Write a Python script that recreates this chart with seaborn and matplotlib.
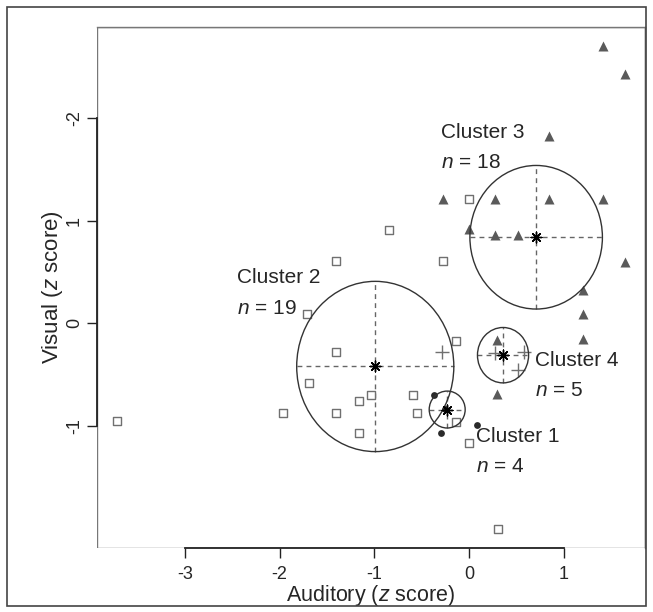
import numpy as np
import pandas as pd
import seaborn as sns
import matplotlib.pyplot as plt
from matplotlib.patches import Ellipse, Rectangle

# %% data (z scores)

# cluster 1 - filled dots
c1_x = [-0.37, -0.30, 0.09, -0.25]
c1_y = [-0.70, -1.07, -0.99, -0.83]

# cluster 2 - open squares
c2_x = [-1.71, -1.40, -0.14, -1.69, -1.97, -1.40, -1.16, -1.03, -0.59, -0.55,
        -1.16, -0.14, 0.00, -3.72, -0.85, -1.40, -0.27, 0.00, 0.31]
c2_y = [0.09, -0.28, -0.17, -0.58, -0.87, -0.87, -0.76, -0.70, -0.70, -0.87,
        -1.07, -0.96, -1.17, -0.95, 0.91, 0.61, 0.61, 1.21, -2.00]

# cluster 3 - filled triangles
c3_x = [1.42, 1.65, 0.85, -0.27, 0.28, 0.85, 1.42, 0.00, 0.28, 0.52,
        1.65, 1.20, 1.20, 1.20, 0.30, 0.30]
c3_y = [2.70, 2.43, 1.83, 1.21, 1.21, 1.21, 1.21, 0.92, 0.86, 0.86,
        0.60, 0.33, 0.09, -0.15, -0.16, -0.69]

# cluster 4 - plus signs
c4_x = [-0.28, 0.28, 0.58, 0.52]
c4_y = [-0.28, -0.29, -0.28, -0.45]

# cluster centres and circle radii
clusters = ["Cluster 1", "Cluster 2", "Cluster 3", "Cluster 4"]
cluster_n = [4, 19, 18, 5]
centre_x = [-0.23, -0.99, 0.71, 0.36]
centre_y = [-0.84, -0.42, 0.84, -0.31]
radius_x = [0.19, 0.83, 0.70, 0.27]
radius_y = [0.18, 0.83, 0.70, 0.27]

# label anchor (left edge of text), two lines each
label_x = [0.07, -2.45, -0.30, 0.70]
label_y1 = [-1.10, 0.45, 1.86, -0.36]
label_y2 = [-1.40, 0.15, 1.57, -0.65]

# axis ticks and their printed labels (as in the figure)
x_ticks = [-3, -2, -1, 0, 1]
y_ticks = [2, 1, 0, -1]
y_tick_labels = ["-2", "1", "0", "-1"]


# %% style

sns.set_style("white")
plt.rcParams["font.family"] = ["Liberation Sans", "DejaVu Sans"]
plt.rcParams["mathtext.fontset"] = "custom"
plt.rcParams["mathtext.rm"] = "Liberation Sans"
plt.rcParams["mathtext.it"] = "Liberation Sans:italic"

fig = plt.figure(figsize=(6.53, 6.12), dpi=100)
W, H = 653, 612
# axes box in pixels: left 97, right 645, top 27, bottom 548
ax = fig.add_axes([97 / W, 1 - 548 / H, (645 - 97) / W, (548 - 27) / H])

# outer border of the figure
fig.patches.append(Rectangle((7 / W, 1 - 606 / H), (646 - 7) / W,
                             (606 - 7) / H,
                             transform=fig.transFigure, fill=False,
                             edgecolor="#444444", linewidth=1.2))


# %% points

df1 = pd.DataFrame({"x": c1_x, "y": c1_y})
df2 = pd.DataFrame({"x": c2_x, "y": c2_y})
df3 = pd.DataFrame({"x": c3_x, "y": c3_y})
df4 = pd.DataFrame({"x": c4_x, "y": c4_y})

sns.scatterplot(data=df2, x="x", y="y", marker="s", s=40,
                facecolor="white", edgecolor="#707070", linewidth=1.0,
                ax=ax, zorder=3)
sns.scatterplot(data=df3, x="x", y="y", marker="^", s=52,
                color="#5a5a5a", linewidth=0, ax=ax, zorder=3)
sns.scatterplot(data=df1, x="x", y="y", marker="o", s=24,
                color="#2a2a2a", linewidth=0, ax=ax, zorder=3)
sns.scatterplot(data=df4, x="x", y="y", marker="+", s=90,
                color="#707070", linewidth=1.0, ax=ax, zorder=3)

# circles, dashed cross-hairs and centre asterisks
for cx, cy, rx, ry in zip(centre_x, centre_y, radius_x, radius_y):
    ax.add_patch(Ellipse((cx, cy), 2 * rx, 2 * ry, fill=False,
                         edgecolor="#333333", linewidth=1.0, zorder=4))
    ax.plot([cx - rx, cx + rx], [cy, cy], color="#666666",
            linewidth=1.0, dashes=(3.5, 3), zorder=2)
    ax.plot([cx, cx], [cy - ry, cy + ry], color="#666666",
            linewidth=1.0, dashes=(3.5, 3), zorder=2)
ax.scatter(centre_x, centre_y, marker=(8, 2, 0), s=60,
           color="black", linewidth=1.0, zorder=5)

# cluster labels
for name, n, lx, ly1, ly2 in zip(clusters, cluster_n, label_x,
                                 label_y1, label_y2):
    ax.text(lx, ly1, name, fontsize=15, ha="left", va="center")
    ax.text(lx, ly2, "$n$ = %d" % n, fontsize=15, ha="left", va="center")


# %% axes

ax.set_xlim(-3.93, 1.86)
ax.set_ylim(-2.19, 2.89)

ax.set_xticks(x_ticks)
ax.set_xticklabels([str(t) for t in x_ticks])
ax.set_yticks(y_ticks)
ax.set_yticklabels(y_tick_labels, rotation=90, va="center")

ax.tick_params(axis="both", direction="out", length=7, width=1.0,
               color="#222222", labelsize=13, bottom=True, left=True)
ax.tick_params(axis="x", pad=6)
ax.tick_params(axis="y", pad=3)

# grey box, darker axis lines between the outer ticks
for side in ["top", "right"]:
    ax.spines[side].set_color("#777777")
    ax.spines[side].set_linewidth(1.0)
for side in ["left", "bottom"]:
    ax.spines[side].set_color("#222222")
    ax.spines[side].set_linewidth(1.3)
ax.spines["left"].set_bounds(-1, 2)
ax.spines["bottom"].set_bounds(-3, 1)
ax.add_patch(Rectangle((0, 0), 1, 1, transform=ax.transAxes, fill=False,
                       edgecolor="#777777", linewidth=1.0, zorder=1))

ax.set_xlabel("Auditory ($z$ score)", fontsize=15.5, labelpad=0)
ax.set_ylabel("Visual ($z$ score)", fontsize=16, labelpad=1)

# save
plt.savefig("out.png", dpi=100)
